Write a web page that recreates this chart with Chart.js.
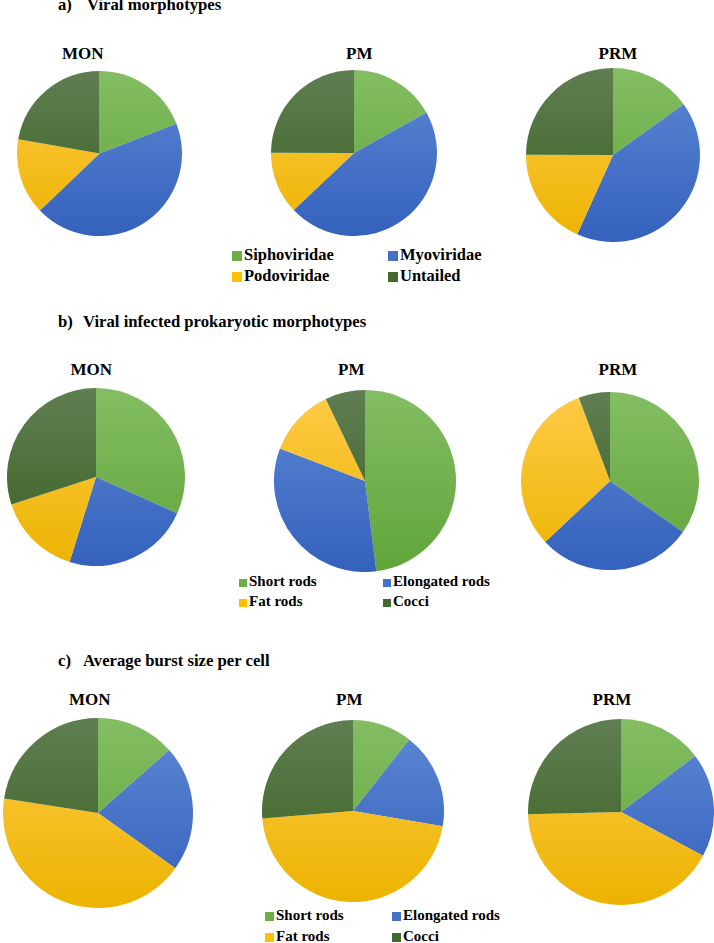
<!DOCTYPE html>
<html>
<head>
<meta charset="utf-8">
<script src="https://cdn.jsdelivr.net/npm/chart.js@4.4.1/dist/chart.umd.min.js"></script>
<style>
  html, body { margin: 0; padding: 0; background: #ffffff; }
  body { width: 714px; height: 943px; position: relative; overflow: hidden; color: #000; }
  .t { position: absolute; white-space: nowrap; line-height: 1; font-family: 'Liberation Serif', 'DejaVu Serif', 'Times New Roman', Times, serif; font-weight: 700; }
  canvas { position: absolute; }
  .sq { position: absolute; }
</style>
</head>
<body>
<script>
// ---------- data ----------
const siteLabels = ['MON', 'PM', 'PRM'];
const viralCategories = ['Siphoviridae', 'Myoviridae', 'Podoviridae', 'Untailed'];
const hostCategories = ['Short rods', 'Elongated rods', 'Fat rods', 'Cocci'];
const panelTitles = ['Viral morphotypes', 'Viral infected prokaryotic morphotypes', 'Average burst size per cell'];
const panelLetters = ['a)', 'b)', 'c)'];

// a) Viral morphotypes (%)
const viralMON = [19.1, 43.7, 14.9, 22.2];
const viralPM  = [16.9, 46.1, 12.1, 25.0];
const viralPRM = [15.1, 41.7, 18.3, 25.0];
// b) Viral infected prokaryotic morphotypes (%)
const infectedMON = [31.7, 23.1, 15.2, 30.0];
const infectedPM  = [48.0, 32.8, 12.1, 7.1];
const infectedPRM = [34.7, 28.3, 31.3, 5.7];
// c) Average burst size per cell (%)
const burstMON = [13.5, 21.4, 42.6, 22.6];
const burstPM  = [10.6, 17.1, 46.0, 26.3];
const burstPRM = [14.7, 18.1, 41.8, 25.4];

// ---------- styles ----------
const flatColors = ['#6fad47', '#4472c4', '#ffc000', '#436a2c'];
const lightColors = ['#84bd63', '#5d88d4', '#ffcb48', '#5f7e52'];
const darkColors  = ['#60a53a', '#3461bc', '#ecb300', '#3a6120'];

const panels = [
  { cats: viralCategories, data: [viralMON, viralPM, viralPRM],
    letterX: 58, titleX: 87, titleBase: 11,
    labelBase: 59, labelCx: [83, 359, 618],
    pies: [[99, 153, 82.5], [354, 153, 83], [613, 155, 87]],
    legend: { fs: 16.5, sq: 10, col: [232, 388], textGap: 12, base: [261, 282] } },
  { cats: hostCategories, data: [infectedMON, infectedPM, infectedPRM],
    letterX: 58, titleX: 83, titleBase: 328,
    labelBase: 375, labelCx: [91.5, 351, 618],
    pies: [[96, 477, 89], [365, 481, 91], [610, 481, 89]],
    legend: { fs: 15, sq: 8, col: [239, 383], textGap: 10, base: [587, 607] } },
  { cats: hostCategories, data: [burstMON, burstPM, burstPRM],
    letterX: 58, titleX: 83, titleBase: 667,
    labelBase: 705, labelCx: [90, 349, 612],
    pies: [[98, 813, 95], [353, 811, 91], [621, 812, 93]],
    legend: { fs: 15, sq: 9, col: [265, 392], textGap: 11, base: [921, 942] } }
];

function addText(txt, x, baseline, fs, center) {
  const d = document.createElement('div');
  d.className = 't';
  d.textContent = txt;
  d.style.fontSize = fs + 'px';
  d.style.top = (baseline - 0.8375 * fs) + 'px';
  document.body.appendChild(d);
  d.style.left = (center ? x - d.offsetWidth / 2 : x) + 'px';
  return d;
}

function gradientFill(c) {
  const i = c.dataIndex;
  const ch = c.chart;
  const area = ch.chartArea;
  if (!area) return flatColors[i];
  const g = ch.ctx.createLinearGradient(0, area.top, 0, area.bottom);
  g.addColorStop(0, lightColors[i]);
  g.addColorStop(1, darkColors[i]);
  return g;
}

panels.forEach((p, pi) => {
  addText(panelLetters[pi], p.letterX, p.titleBase, 16.7, false);
  addText(panelTitles[pi], p.titleX, p.titleBase, 16.7, false);
  siteLabels.forEach((s, k) => addText(s, p.labelCx[k], p.labelBase, 17, true));

  p.pies.forEach(([cx, cy, r], k) => {
    const size = Math.round(2 * r);
    const cv = document.createElement('canvas');
    cv.width = size; cv.height = size;
    cv.style.left = (cx - size / 2) + 'px';
    cv.style.top = (cy - size / 2) + 'px';
    cv.style.width = size + 'px';
    cv.style.height = size + 'px';
    document.body.appendChild(cv);
    new Chart(cv, {
      type: 'pie',
      data: {
        labels: p.cats,
        datasets: [{ data: p.data[k], backgroundColor: gradientFill, borderWidth: 0, hoverOffset: 0 }]
      },
      options: {
        responsive: false,
        animation: false,
        devicePixelRatio: 1,
        layout: { padding: 0 },
        plugins: { legend: { display: false }, tooltip: { enabled: false }, title: { display: false } },
        events: []
      }
    });
  });

  const L = p.legend;
  p.cats.forEach((cat, j) => {
    const col = j % 2, row = Math.floor(j / 2);
    const x = L.col[col];
    const base = L.base[row];
    const sq = document.createElement('div');
    sq.className = 'sq';
    sq.style.left = x + 'px';
    sq.style.top = (base - L.sq) + 'px';
    sq.style.width = L.sq + 'px';
    sq.style.height = L.sq + 'px';
    sq.style.background = flatColors[j];
    document.body.appendChild(sq);
    addText(cat, x + L.textGap, base, L.fs, false);
  });
});
</script>
</body>
</html>
